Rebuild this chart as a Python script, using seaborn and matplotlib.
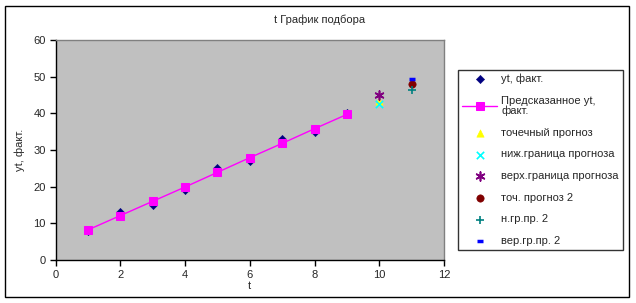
import matplotlib
matplotlib.use("Agg")
import matplotlib.pyplot as plt
import seaborn as sns
import pandas as pd
from matplotlib.patches import Rectangle

t_fact = [1, 2, 3, 4, 5, 6, 7, 8, 9]
yt_fact = [8, 13, 15, 19, 25, 27, 33, 35, 40]
yt_pred = [8.2, 12.1, 16.0, 19.9, 23.9, 27.9, 31.8, 35.8, 39.7]
t_fc1 = [10]
point_fc1 = [43.4]
low_fc1 = [42.5]
up_fc1 = [45.0]
t_fc2 = [11]
point_fc2 = [47.9]
low_fc2 = [46.4]
up_fc2 = [49.3]

labels = ["yt, факт.", "Предсказанное yt,\nфакт.", "точечный прогноз",
          "ниж.граница прогноза", "верх.граница прогноза", "точ. прогноз 2",
          "н.гр.пр. 2", "вер.гр.пр. 2"]

sns.set_style("white")
plt.rcParams['font.family'] = ['Liberation Sans', 'DejaVu Sans']

fig = plt.figure(figsize=(6.36, 3.03), dpi=100)
ax = fig.add_axes([55.5/636, 43/303, (444-55.5)/636, 220/303])
ax.set_facecolor("#c0c0c0")

df = pd.DataFrame({"t": t_fact, "fact": yt_fact, "pred": yt_pred})
sns.scatterplot(data=df, x="t", y="fact", marker="D", color="#000080", s=18,
                edgecolor="#000080", ax=ax, label=labels[0], zorder=3)
sns.lineplot(data=df, x="t", y="pred", marker="s", color="#ff00ff", markersize=5.5,
             markeredgecolor="#ff00ff", linewidth=1, ax=ax, label=labels[1], zorder=4)
sns.scatterplot(x=t_fc1, y=point_fc1, marker="^", color="#ffff00", s=28,
                edgecolor="#ffff00", ax=ax, label=labels[2], zorder=4)
sns.scatterplot(x=t_fc1, y=low_fc1, marker="x", color="#00ffff", s=28,
                linewidth=1.2, ax=ax, label=labels[3], zorder=4)
sns.scatterplot(x=t_fc1, y=up_fc1, marker=(6, 2, 0), color="#800080", s=40,
                linewidth=1.2, ax=ax, label=labels[4], zorder=4)
sns.scatterplot(x=t_fc2, y=point_fc2, marker="o", color="#800000", s=28,
                edgecolor="#800000", ax=ax, label=labels[5], zorder=4)
sns.scatterplot(x=t_fc2, y=low_fc2, marker="+", color="#008080", s=40,
                linewidth=1.2, ax=ax, label=labels[6], zorder=4)
sns.scatterplot(x=t_fc2, y=up_fc2, marker="_", color="#0000ff", s=25,
                linewidth=2.5, ax=ax, label=labels[7], zorder=4)

ax.set_xlim(0, 12)
ax.set_ylim(0, 60)
ax.set_xticks(range(0, 13, 2))
ax.set_yticks(range(0, 61, 10))
ax.tick_params(axis="both", direction="out", length=4, width=1, labelsize=8,
               color="black", pad=3, bottom=True, left=True)
for s in ["top", "right"]:
    ax.spines[s].set_color("#808080")
    ax.spines[s].set_linewidth(1)
for s in ["left", "bottom"]:
    ax.spines[s].set_color("black")
    ax.spines[s].set_linewidth(1)
ax.set_xlabel("t", fontsize=8, labelpad=1)
ax.set_ylabel("yt, факт.", fontsize=8, labelpad=6)

handles, labs = ax.get_legend_handles_labels()
ax.get_legend().remove()
leg = fig.legend(handles, labs, loc="upper left",
                 bbox_to_anchor=(458/636, 1 - 70/303), fontsize=8,
                 frameon=True, fancybox=False, edgecolor="black",
                 borderpad=0.35, labelspacing=1.05, handlelength=3.2,
                 handletextpad=0.35, borderaxespad=0)
leg.get_frame().set_linewidth(1)
for txt in leg.get_texts():
    txt.set_linespacing(0.95)

fig.text(320/636, 1 - 20/303, "t График подбора", ha="center", va="center", fontsize=8)

fig.patches.append(Rectangle((5/636, 6/303), 624/636, 291/303, transform=fig.transFigure,
                             fill=False, edgecolor="black", linewidth=1))

fig.savefig("out.png", dpi=100)
